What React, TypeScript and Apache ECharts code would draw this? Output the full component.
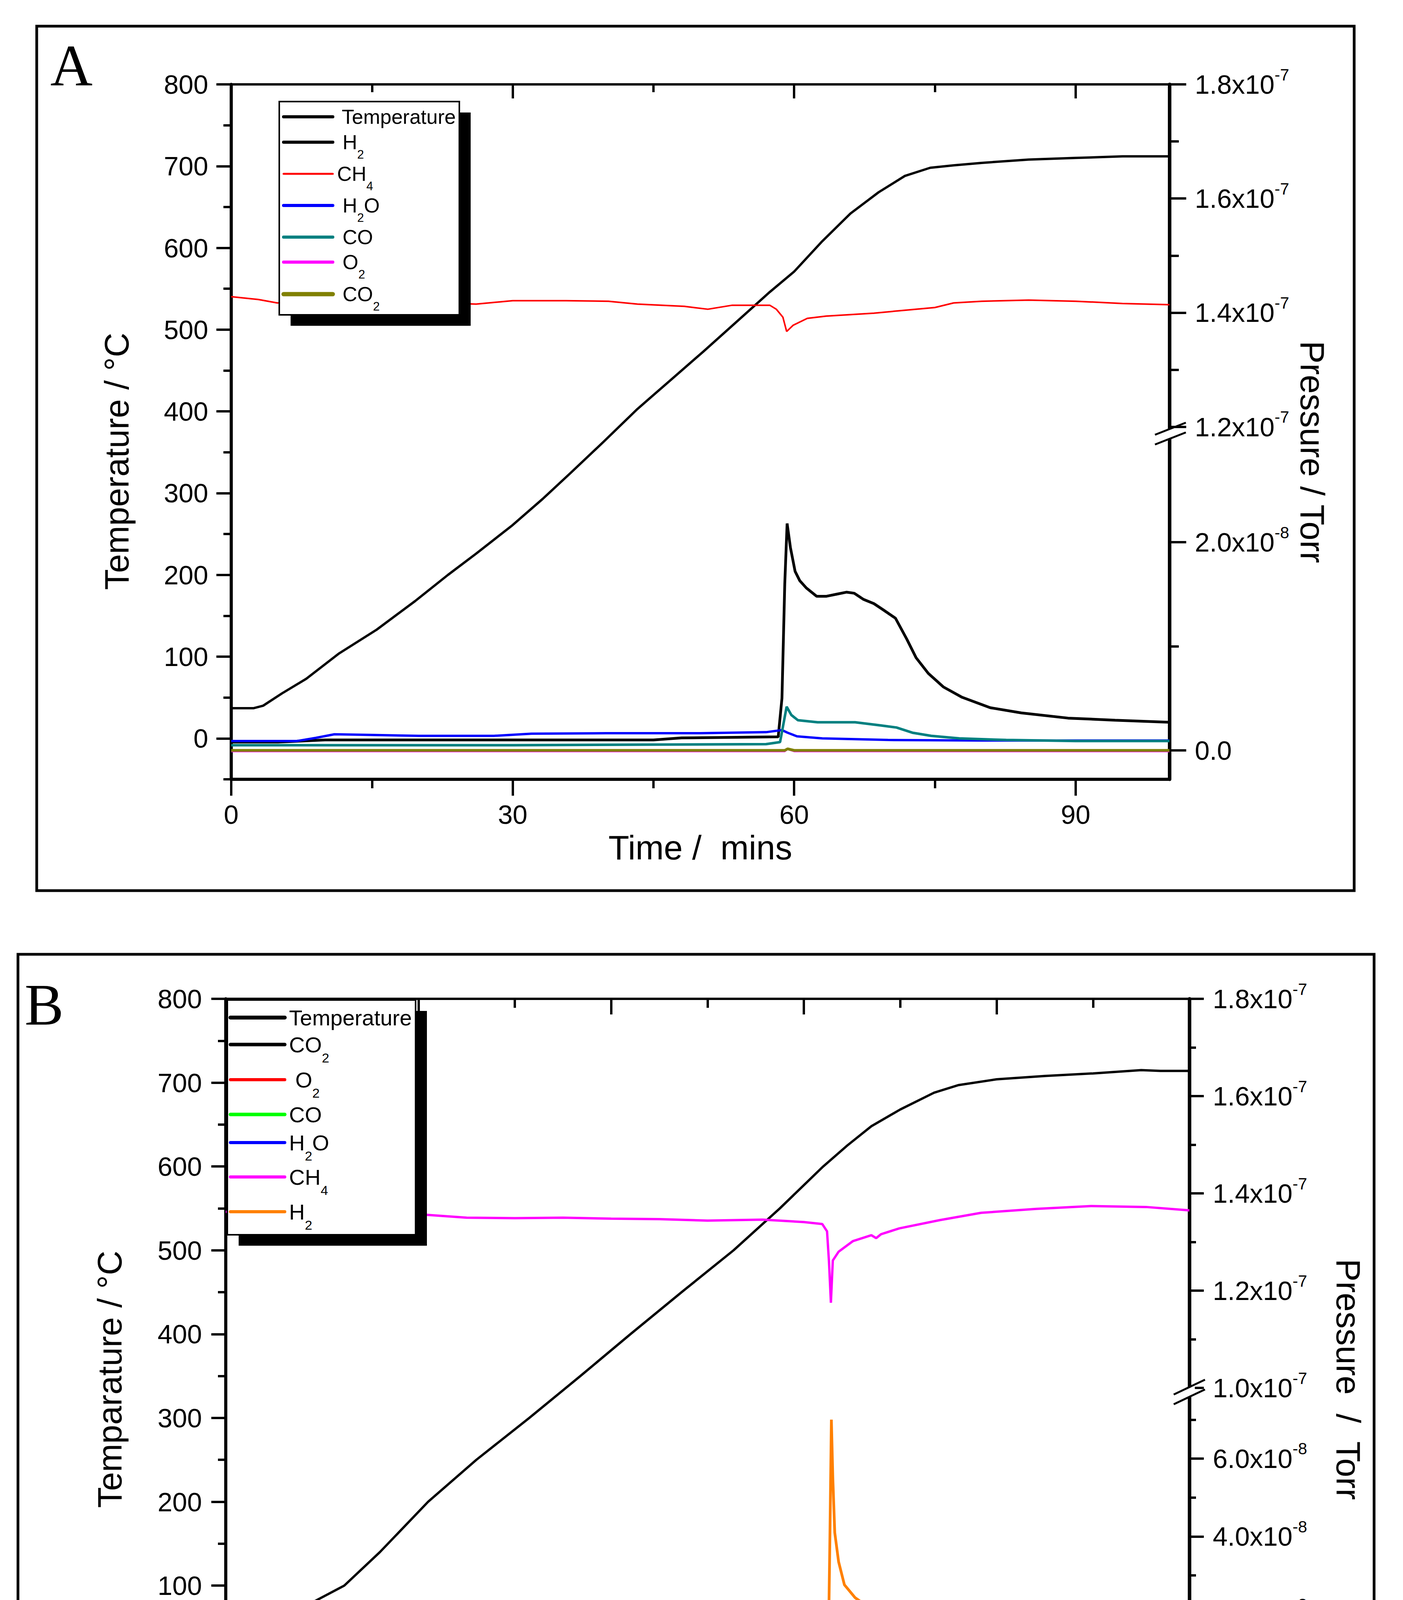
import { useEffect, useRef } from 'react';
import * as echarts from 'echarts';

const FONT = '"Liberation Sans", Arial, Helvetica, sans-serif';
const SERIF = '"Liberation Serif", "Times New Roman", serif';

// ---------- panel A (time in min, temperature in °C, pressure in Torr) ----------
const tempA: [number, number][] = [
  [0, 37], [2.4, 37], [3.4, 40], [5.4, 55], [8, 73], [11.5, 104], [15.5, 133], [19.6, 168],
  [23.1, 200], [26.1, 226], [30, 261], [33.2, 293], [36.2, 325], [39.7, 363], [43.3, 403],
  [46.8, 438], [50.3, 473], [53.9, 510], [57.4, 546], [60, 571], [62.9, 607], [66, 642],
  [69, 668], [71.8, 688], [74.5, 698], [77, 701], [80, 704], [85, 708], [90, 710], [95, 712], [100, 712],
];
const h2A: [number, number][] = [
  [0, 0.8e-9], [5, 0.8e-9], [10, 1.0e-9], [30, 1.0e-9], [45, 1.0e-9], [48, 1.2e-9], [58.3, 1.3e-9],
  [58.7, 5e-9], [59.0, 1.6e-8], [59.25, 2.18e-8], [59.6, 1.95e-8], [60.1, 1.72e-8], [60.6, 1.63e-8],
  [61.3, 1.56e-8], [62.4, 1.48e-8], [63.4, 1.48e-8], [64.5, 1.5e-8], [65.6, 1.52e-8], [66.4, 1.51e-8],
  [67.4, 1.45e-8], [68.5, 1.41e-8], [69.5, 1.35e-8], [70.8, 1.27e-8], [72, 1.07e-8], [73, 8.9e-9],
  [74.3, 7.4e-9], [75.9, 6.1e-9], [77.9, 5.1e-9], [80.9, 4.1e-9], [84.2, 3.6e-9], [89.2, 3.1e-9],
  [94.2, 2.9e-9], [100, 2.7e-9],
];
const ch4A: [number, number][] = [
  [0, 1.428e-7], [2.9, 1.423e-7], [4.9, 1.417e-7], [10, 1.42e-7], [20, 1.418e-7], [26.1, 1.415e-7],
  [30, 1.421e-7], [35.7, 1.421e-7], [40.2, 1.42e-7], [43.3, 1.415e-7], [48.3, 1.411e-7], [50.8, 1.406e-7],
  [53.4, 1.413e-7], [57.4, 1.413e-7], [58.1, 1.406e-7], [58.8, 1.392e-7], [59.2, 1.367e-7], [59.9, 1.378e-7],
  [61.4, 1.39e-7], [63.4, 1.394e-7], [68.5, 1.399e-7], [71, 1.403e-7], [75, 1.409e-7], [77, 1.417e-7],
  [80, 1.42e-7], [85, 1.422e-7], [90, 1.42e-7], [95, 1.416e-7], [100, 1.414e-7],
];
const h2oA: [number, number][] = [
  [0, 0.9e-9], [7, 0.9e-9], [9, 1.2e-9], [11, 1.55e-9], [14, 1.5e-9], [20, 1.4e-9], [28, 1.4e-9],
  [32, 1.6e-9], [40, 1.65e-9], [50, 1.65e-9], [57, 1.75e-9], [58.7, 1.95e-9], [59.3, 1.7e-9],
  [60.3, 1.35e-9], [63, 1.15e-9], [70, 1.0e-9], [80, 0.95e-9], [100, 0.95e-9],
];
const coA: [number, number][] = [
  [0, 0.5e-9], [30, 0.5e-9], [57, 0.6e-9], [58.5, 0.8e-9], [59.2, 4.2e-9], [59.7, 3.4e-9], [60.4, 2.9e-9],
  [62.5, 2.7e-9], [66.5, 2.7e-9], [69.2, 2.4e-9], [70.9, 2.2e-9], [72.6, 1.7e-9], [74.6, 1.4e-9],
  [77.6, 1.15e-9], [82.6, 1.0e-9], [90, 0.9e-9], [100, 0.9e-9],
];
const o2A: [number, number][] = [[0, -0.1e-9], [59, -0.1e-9], [59.3, 0.1e-9], [60, -0.1e-9], [100, -0.1e-9]];
const co2A: [number, number][] = [[0, 0], [59, 0], [59.3, 0.15e-9], [60, 0], [100, 0]];

// ---------- panel B ----------
const tempB: [number, number][] = [
  [0, 36], [2, 36], [3.5, 40], [5, 50], [7, 64], [9, 80], [12.3, 100], [16, 140], [21, 200], [26, 250],
  [31.5, 300], [36.8, 350], [42, 400], [47.3, 450], [52.7, 500], [57.5, 550], [62, 600], [64.5, 625],
  [67, 648], [70, 668], [73.5, 688], [76, 697], [80, 704], [85, 708], [90, 711], [95, 715], [97, 714], [100, 714],
];
const co2B: [number, number][] = [[0, -0.4e-9], [62.5, -0.4e-9], [62.9, 0.2e-9], [63.5, -0.3e-9], [100, -0.3e-9]];
const o2B: [number, number][] = [[0, 0.05e-9], [50, 0], [100, 0]];
const coB: [number, number][] = [
  [0, 0.6e-9], [60, 0.6e-9], [62.4, 0.8e-9], [62.9, 1.15e-8], [63.2, 7.8e-9], [63.6, 6.2e-9], [64.2, 5.2e-9],
  [67, 4.3e-9], [70, 3.6e-9], [72.7, 2.8e-9], [75.6, 2.1e-9], [81.3, 1.5e-9], [90, 1.2e-9], [100, 1.1e-9],
];
const h2oB: [number, number][] = [
  [0, 1.5e-9], [4.7, 1.5e-9], [6.7, 1.9e-9], [8.8, 2.5e-9], [11, 2.4e-9], [15, 2.1e-9], [17, 1.9e-9],
  [30, 1.9e-9], [45, 1.95e-9], [61.5, 2.1e-9], [62.6, 2.7e-9], [64.2, 1.8e-9], [69.9, 1.2e-9],
  [78.4, 0.9e-9], [100, 0.75e-9],
];
const ch4B: [number, number][] = [
  [0, 1.362e-7], [10, 1.36e-7], [20, 1.357e-7], [25, 1.35e-7], [30, 1.349e-7], [35, 1.35e-7], [40, 1.348e-7],
  [45, 1.347e-7], [50, 1.344e-7], [55.7, 1.346e-7], [60, 1.341e-7], [61.9, 1.337e-7], [62.4, 1.322e-7],
  [62.6, 1.26e-7], [62.8, 1.175e-7], [63.0, 1.262e-7], [63.6, 1.28e-7], [65.1, 1.302e-7], [67, 1.314e-7],
  [67.5, 1.308e-7], [68, 1.316e-7], [69.9, 1.328e-7], [74.1, 1.345e-7], [78.4, 1.36e-7], [84.1, 1.368e-7],
  [89.8, 1.374e-7], [95.5, 1.372e-7], [100, 1.365e-7],
];
const h2B: [number, number][] = [
  [0, 1.2e-9], [30, 1.2e-9], [60, 1.3e-9], [62.2, 1.5e-9], [62.5, 5e-9], [62.7, 4e-8], [62.85, 7.0e-8],
  [63.0, 5.5e-8], [63.2, 4.1e-8], [63.6, 3.35e-8], [64.2, 2.76e-8], [65.3, 2.43e-8], [66.5, 2.22e-8],
  [66.8, 2.3e-8], [67.0, 2.15e-8], [67.8, 1.98e-8], [69.9, 1.75e-8], [72.7, 1.52e-8], [73.9, 1.33e-8],
  [75.6, 9.6e-9], [77.8, 6.9e-9], [80.7, 5.5e-9], [84.1, 4.6e-9], [89.8, 3.9e-9], [100, 3.0e-9],
];

// series names / colours / which axis (0 temp, 1 low pressure, 2 high pressure)
const namesA = ['Temperature', 'H2', 'CH4', 'H2O', 'CO', 'O2', 'CO2'];
const colorsA = ['#000000', '#000000', '#ff0000', '#0000ff', '#008080', '#ff00ff', '#808000'];
const dataA = [tempA, h2A, ch4A, h2oA, coA, o2A, co2A];
const scaleA = [0, 1, 2, 1, 1, 1, 1];
const namesB = ['Temperature', 'CO2', 'O2', 'CO', 'H2O', 'CH4', 'H2'];
const colorsB = ['#000000', '#000000', '#ff0000', '#00ff00', '#0000ff', '#ff00ff', '#ff8000'];
const dataB = [tempB, co2B, o2B, coB, h2oB, ch4B, h2B];
const scaleB = [0, 1, 1, 1, 1, 2, 1];

// ticks
const xMajorA = [0, 30, 60, 90];
const xMinorA = [15, 45, 75];
const xTopMajorA = [30, 60, 90];
const xMajorB = [0, 20, 40, 60, 80, 100];
const xMinorB = [10, 30, 50, 70, 90];
const xTopMajorB = [20, 40, 60, 80];
const tempTicks = [0, 100, 200, 300, 400, 500, 600, 700, 800];
const tempMinor = [-50, 50, 150, 250, 350, 450, 550, 650, 750];
const pLowA = [0, 2e-8];
const pLowMinorA = [1e-8];
const pHighA = [1.2e-7, 1.4e-7, 1.6e-7, 1.8e-7];
const pHighMinorA = [1.3e-7, 1.5e-7, 1.7e-7];
const pLowB = [0, 2e-8, 4e-8, 6e-8];
const pLowMinorB = [1e-8, 3e-8, 5e-8, 7e-8];
const pHighB = [1.0e-7, 1.2e-7, 1.4e-7, 1.6e-7, 1.8e-7];
const pHighMinorB = [1.1e-7, 1.3e-7, 1.5e-7, 1.7e-7];

const sci = (v: number) => {
  if (Math.abs(v) < 1e-15) return '{m|0.0}';
  const e = Math.floor(Math.log10(v) + 1e-9);
  const m = v / Math.pow(10, e);
  return `{m|${m.toFixed(1)}x10}{e|-${-e}}`;
};
const sciRich = {
  m: { fontSize: 68, fontFamily: FONT, color: '#000', verticalAlign: 'middle' },
  e: { fontSize: 42, fontFamily: FONT, color: '#000', verticalAlign: 'middle', padding: [0, 0, 50, 0] },
};

function axis(p: any) {
  return {
    type: 'value',
    gridIndex: p.grid,
    position: p.pos,
    min: p.min,
    max: p.max,
    splitLine: { show: false },
    axisLine: { show: !!p.lineW, onZero: false, lineStyle: { color: '#000', width: p.lineW || 1 } },
    axisTick: {
      show: true, inside: !!p.inside, length: p.len, customValues: p.ticks,
      lineStyle: { color: '#000', width: 6 },
    },
    axisLabel: p.labels
      ? {
          show: true, customValues: p.labels, margin: p.margin, color: '#000',
          fontFamily: FONT, fontSize: 68, formatter: p.fmt, rich: p.rich,
        }
      : { show: false },
    name: p.name,
    nameLocation: 'middle',
    nameGap: p.nameGap,
    nameTextStyle: { fontSize: 87, fontFamily: FONT, color: '#000' },
  };
}

const chem = (s: string) =>
  ('{m|' + s.replace(/(\d+)/g, '}{s|$1}{m|') + '}').replace(/\{m\|\}/g, '');

function legend(box: number[], rows: number[], names: string[], colors: string[], widths: number[],
  line: number[], textX: number[], fs: number) {
  const [bx, by, bw, bh] = box;
  const els: any[] = [
    { type: 'rect', z: 60, shape: { x: bx + 29, y: by + 28, width: bw, height: bh }, style: { fill: '#000' } },
    { type: 'rect', z: 61, shape: { x: bx, y: by, width: bw, height: bh }, style: { fill: '#fff', stroke: '#000', lineWidth: 4 } },
  ];
  names.forEach((n, i) => {
    els.push({
      type: 'line', z: 62,
      shape: { x1: line[0], y1: rows[i], x2: line[1], y2: rows[i] },
      style: { stroke: colors[i], lineWidth: widths[i], lineCap: 'round' },
    });
    els.push({
      type: 'text', z: 62, x: textX[i], y: rows[i],
      style: {
        text: chem(n), align: 'left', verticalAlign: 'middle', textAlign: 'left', textVerticalAlign: 'middle',
        rich: {
          m: { fontSize: fs, fontFamily: FONT, fill: '#000', verticalAlign: 'middle' },
          s: { fontSize: Math.round(fs * 0.6), fontFamily: FONT, fill: '#000', verticalAlign: 'middle', padding: [Math.round(fs * 1.2), 0, 0, 0] },
        },
      },
    });
  });
  return els;
}

function vtext(text: string, x: number, y: number, rot: number) {
  return {
    type: 'text', z: 5, x, y, rotation: rot,
    style: {
      text, fontSize: 87, fontFamily: FONT, fill: '#000',
      align: 'center', verticalAlign: 'middle', textAlign: 'center', textVerticalAlign: 'middle',
    },
  };
}

function brk(ax: number, pts: number[][]) {
  // pts: [lower line, upper line] each [x1,y1,x2,y2]
  const [l, u] = pts;
  const at = (s: number[], x: number) => s[1] + ((s[3] - s[1]) * (x - s[0])) / (s[2] - s[0]);
  const xa = ax - 14;
  const xb = ax + 14;
  return [
    { type: 'polygon', z: 70, shape: { points: [[xa, at(l, xa)], [xb, at(l, xb)], [xb, at(u, xb)], [xa, at(u, xa)]] }, style: { fill: '#fff' } },
    { type: 'line', z: 71, shape: { x1: l[0], y1: l[1], x2: l[2], y2: l[3] }, style: { stroke: '#000', lineWidth: 5 } },
    { type: 'line', z: 71, shape: { x1: u[0], y1: u[1], x2: u[2], y2: u[3] }, style: { stroke: '#000', lineWidth: 5 } },
  ];
}

export default function App() {
  const ref = useRef<HTMLDivElement>(null);

  useEffect(() => {
    document.body.style.margin = '0';
    if (!ref.current) return;
    const chart = echarts.init(ref.current, null, { renderer: 'svg' });

    const xAxis = [
      axis({ grid: 0, pos: 'bottom', min: 0, max: 100, lineW: 8, ticks: xMajorA, len: 42, labels: xMajorA, margin: 56, name: 'Time /  mins', nameGap: 131 }),
      axis({ grid: 0, pos: 'bottom', min: 0, max: 100, ticks: xMinorA, len: 23 }),
      axis({ grid: 0, pos: 'top', min: 0, max: 100, lineW: 6, ticks: xTopMajorA, len: 36, inside: true }),
      axis({ grid: 0, pos: 'top', min: 0, max: 100, ticks: xMinorA, len: 20, inside: true }),
      axis({ grid: 1, pos: 'bottom', min: 0, max: 100, lineW: 8, ticks: xMajorB, len: 42, labels: xMajorB, margin: 60, name: 'Time /  Mins', nameGap: 156 }),
      axis({ grid: 1, pos: 'bottom', min: 0, max: 100, ticks: xMinorB, len: 23 }),
      axis({ grid: 1, pos: 'top', min: 0, max: 100, lineW: 6, ticks: xTopMajorB, len: 40, inside: true }),
      axis({ grid: 1, pos: 'top', min: 0, max: 100, ticks: xMinorB, len: 23, inside: true }),
    ];
    const yAxis = [
      axis({ grid: 0, pos: 'left', min: -50, max: 800, lineW: 8, ticks: tempTicks, len: 38, labels: tempTicks, margin: 59 }),
      axis({ grid: 0, pos: 'left', min: -50, max: 800, ticks: tempMinor, len: 20 }),
      axis({ grid: 0, pos: 'right', min: -2.777e-9, max: 6.398e-8, ticks: pLowA, len: 43, labels: pLowA, margin: 65, fmt: sci, rich: sciRich }),
      axis({ grid: 0, pos: 'right', min: -2.777e-9, max: 6.398e-8, ticks: pLowMinorA, len: 24 }),
      axis({ grid: 0, pos: 'right', min: 5.823e-8, max: 1.8e-7, lineW: 9, ticks: pHighA, len: 43, labels: pHighA, margin: 65, fmt: sci, rich: sciRich }),
      axis({ grid: 0, pos: 'right', min: 5.823e-8, max: 1.8e-7, ticks: pHighMinorA, len: 24 }),
      axis({ grid: 1, pos: 'left', min: -50, max: 800, lineW: 8, ticks: tempTicks, len: 37, labels: tempTicks, margin: 61 }),
      axis({ grid: 1, pos: 'left', min: -50, max: 800, ticks: tempMinor, len: 20 }),
      axis({ grid: 1, pos: 'right', min: -4.92e-9, max: 1.781e-7, ticks: pLowB, len: 37, labels: pLowB, margin: 60, fmt: sci, rich: sciRich }),
      axis({ grid: 1, pos: 'right', min: -4.92e-9, max: 1.781e-7, ticks: pLowMinorB, len: 17 }),
      axis({ grid: 1, pos: 'right', min: 3.35e-8, max: 1.8e-7, lineW: 9, ticks: pHighB, len: 37, labels: pHighB, margin: 60, fmt: sci, rich: sciRich }),
      axis({ grid: 1, pos: 'right', min: 3.35e-8, max: 1.8e-7, ticks: pHighMinorB, len: 17 }),
    ];

    const widthsA = [6, 7, 4, 6, 6.5, 4, 7];
    const widthsB = [6, 4.5, 7, 5, 6, 6, 7];
    const yIdxA = [0, 2, 4];
    const yIdxB = [6, 8, 10];
    const series: any[] = [];
    namesA.forEach((n, i) =>
      series.push({
        type: 'line', name: n, data: dataA[i], xAxisIndex: 0, yAxisIndex: yIdxA[scaleA[i]],
        symbol: 'none', showSymbol: false, lineStyle: { color: colorsA[i], width: widthsA[i] },
        itemStyle: { color: colorsA[i] },
      })
    );
    namesB.forEach((n, i) =>
      series.push({
        type: 'line', name: n, data: dataB[i], xAxisIndex: 4, yAxisIndex: yIdxB[scaleB[i]],
        symbol: 'none', showSymbol: false, lineStyle: { color: colorsB[i], width: widthsB[i] },
        itemStyle: { color: colorsB[i] },
      })
    );

    const graphic: any[] = [
      { type: 'rect', z: 1, shape: { x: 94, y: 67, width: 3373, height: 2213 }, style: { fill: 'none', stroke: '#000', lineWidth: 7 } },
      { type: 'rect', z: 1, shape: { x: 46, y: 2443, width: 3472, height: 2290 }, style: { fill: 'none', stroke: '#000', lineWidth: 7 } },
      { type: 'text', z: 5, x: 183, y: 167, style: { text: 'A', fontSize: 150, fontFamily: SERIF, fill: '#000', align: 'center', verticalAlign: 'middle', textAlign: 'center', textVerticalAlign: 'middle' } },
      { type: 'text', z: 5, x: 113, y: 2572, style: { text: 'B', fontSize: 150, fontFamily: SERIF, fill: '#000', align: 'center', verticalAlign: 'middle', textAlign: 'center', textVerticalAlign: 'middle' } },
      vtext('Temperature / °C', 298, 1181, Math.PI / 2),
      vtext('Pressure / Torr', 3360, 1157, -Math.PI / 2),
      vtext('Temparature / °C', 280, 3531, Math.PI / 2),
      vtext('Pressure  /  Torr', 3452, 3531, -Math.PI / 2),
      ...brk(2994, [[2957, 1138, 3036, 1107], [2957, 1113, 3036, 1082]]),
      ...brk(3045, [[3005, 3595, 3085, 3557], [3005, 3570, 3085, 3532]]),
      ...legend([715, 260, 461, 546], [299, 364, 445, 526, 607, 671, 753], namesA, colorsA,
        [8, 8, 5, 8, 8, 8, 11], [726, 852], [875, 877, 863, 877, 877, 877, 877], 52),
      ...legend([582, 2560, 482, 601], [2605, 2674, 2764, 2853, 2925, 3013, 3102], namesB, colorsB,
        [10, 9, 8, 9, 8, 8, 8], [590, 729], [740, 740, 756, 740, 740, 740, 740], 56),
    ];

    chart.setOption({
      animation: false,
      backgroundColor: '#fff',
      grid: [
        { left: 592, top: 216, width: 2402, height: 1779, containLabel: false, outerBoundsMode: 'none' },
        { left: 578, top: 2557, width: 2467, height: 1824, containLabel: false, outerBoundsMode: 'none' },
      ],
      xAxis,
      yAxis,
      series,
      graphic,
    } as any);

    return () => {
      chart.dispose();
    };
  }, []);

  return <div ref={ref} style={{ width: '3592px', height: '4771px', background: '#fff' }} />;
}
